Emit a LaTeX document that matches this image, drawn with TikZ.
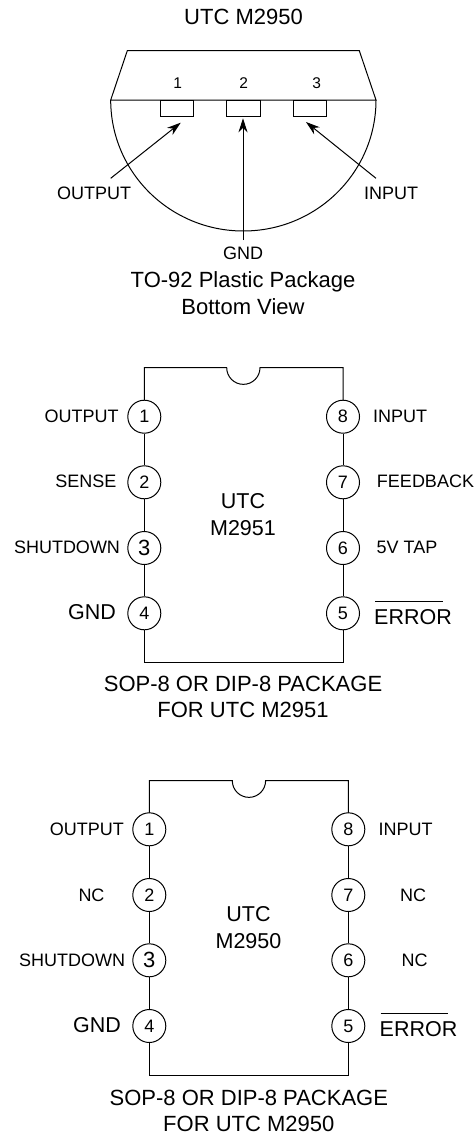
\documentclass[tikz,border=0pt]{standalone}
\usepackage{fontspec}
\setmainfont{Liberation Sans}
\usetikzlibrary{arrows.meta}
\tikzset{
  chippin/.style={draw,circle,minimum size=33pt,inner sep=0pt,fill=white,line width=1pt,font=\fontsize{18}{18}\selectfont},
  bigpin/.style={chippin,font=\fontsize{22}{22}\selectfont},
  lab/.style={inner sep=0pt,font=\fontsize{18}{18}\selectfont},
  numlab/.style={inner sep=0pt,font=\fontsize{15.5}{15.5}\selectfont},
  biglab/.style={inner sep=0pt,font=\fontsize{21.5}{21.5}\selectfont},
  captxt/.style={inner sep=0pt,anchor=base,font=\fontsize{22}{22}\selectfont},
  ln/.style={line width=1pt},
  arr/.style={line width=1pt,-{Stealth[length=14pt,width=9pt]}}
}
\begin{document}
\begin{tikzpicture}[x=1pt,y=-1pt]
\useasboundingbox (0,0) rectangle (476,1135);
% TO-92
\node[captxt] (title) at (243.5,24) {UTC M2950};
\coordinate (tl) at (110.7,100);
\coordinate (tr) at (376,100);
\draw[ln] (tl) -- (127.3,50.7) -- (359.3,50.7) -- (tr) -- cycle;
\draw[ln] (tl) arc[start angle=180,end angle=360,x radius=132.65,y radius=-131];
\draw[ln] (160.3,100) rectangle (193.7,116.3);
\draw[ln] (226.7,100) rectangle (260.7,116.3);
\draw[ln] (293.3,100) rectangle (326.7,116.3);
\node[numlab] (n1) at (177.7,83) {1};
\node[numlab] (n2) at (243.7,83) {2};
\node[numlab] (n3) at (316.7,83) {3};
\node[lab] (to) at (94,193) {OUTPUT};
\node[lab] (ti) at (391,193) {INPUT};
\node[lab] (tg) at (243,253) {GND};
\coordinate (a1) at (180.7,122.7);
\coordinate (a2) at (243,118.3);
\coordinate (a3) at (306,122);
\coordinate (s1) at (110.7,178.3);
\coordinate (s2) at (243,240);
\coordinate (s3) at (376,178.3);
\draw[arr] (s1) -- (a1);
\draw[arr] (s2) -- (a2);
\draw[arr] (s3) -- (a3);
\node[captxt] (c1) at (243,287) {TO-92 Plastic Package};
\node[captxt] (c2) at (243,314) {Bottom View};
% DIP 1
\draw[ln] (144.3,416.7) -- (144.3,367.7) -- (226.7,367.7) arc[start angle=180,end angle=360,x radius=16.65,y radius=-16.65] -- (343,367.7) -- (343,416.7);
\draw[ln] (144.3,613.3) -- (144.3,662.3) -- (343,662.3) -- (343,613.3);
\node[chippin] (a-1) at (144.3,416.7) {1};
\node[chippin] (a-2) at (144.3,482.3) {2};
\node[bigpin] (a-3) at (144.3,548) {3};
\node[chippin] (a-4) at (144.3,613.3) {4};
\node[chippin] (a-8) at (343,416.7) {8};
\node[chippin] (a-7) at (343,482.3) {7};
\node[chippin] (a-6) at (343,548) {6};
\node[chippin] (a-5) at (343,613.3) {5};
\draw[ln] (a-1) -- (a-2);
\draw[ln] (a-2) -- (a-3);
\draw[ln] (a-3) -- (a-4);
\draw[ln] (a-8) -- (a-7);
\draw[ln] (a-7) -- (a-6);
\draw[ln] (a-6) -- (a-5);
\node[lab] (al1) at (81.7,416.7) {OUTPUT};
\node[lab] (al2) at (85.8,481.5) {SENSE};
\node[lab] (al3) at (67,547.5) {SHUTDOWN};
\node[biglab] (al4) at (92,612) {GND};
\node[lab] (al8) at (400,416.7) {INPUT};
\node[lab] (al7) at (425.5,481.5) {FEEDBACK};
\node[lab] (al6) at (407,547.5) {5V TAP};
\node[biglab] (al5) at (413,617) {ERROR};
\draw[line width=.8pt] (375,601) -- (443,601);
\node[biglab] (au) at (243,501) {UTC};
\node[biglab] (am) at (243,528) {M2951};
\node[captxt] (ac1) at (243,691) {SOP-8 OR DIP-8 PACKAGE};
\node[captxt] (ac2) at (243,717) {FOR UTC M2951};
% DIP 2
\draw[ln] (149.3,829.3) -- (149.3,780.7) -- (232.3,780.7) arc[start angle=180,end angle=360,x radius=16.65,y radius=-16.65] -- (348.3,780.7) -- (348.3,829.3);
\draw[ln] (149.3,1026) -- (149.3,1075.3) -- (348.3,1075.3) -- (348.3,1026);
\node[chippin] (b-1) at (149.3,829.3) {1};
\node[chippin] (b-2) at (149.3,895) {2};
\node[bigpin] (b-3) at (149.3,960.3) {3};
\node[chippin] (b-4) at (149.3,1026) {4};
\node[chippin] (b-8) at (348.3,829.3) {8};
\node[chippin] (b-7) at (348.3,895) {7};
\node[chippin] (b-6) at (348.3,960.3) {6};
\node[chippin] (b-5) at (348.3,1026) {5};
\draw[ln] (b-1) -- (b-2);
\draw[ln] (b-2) -- (b-3);
\draw[ln] (b-3) -- (b-4);
\draw[ln] (b-8) -- (b-7);
\draw[ln] (b-7) -- (b-6);
\draw[ln] (b-6) -- (b-5);
\node[lab] (bl1) at (86.8,829.3) {OUTPUT};
\node[lab] (bl2) at (91.5,895) {NC};
\node[lab] (bl3) at (72.2,960.3) {SHUTDOWN};
\node[biglab] (bl4) at (97,1025) {GND};
\node[lab] (bl8) at (405.5,829.3) {INPUT};
\node[lab] (bl7) at (413,895) {NC};
\node[lab] (bl6) at (414.5,960.5) {NC};
\node[biglab] (bl5) at (418.5,1029) {ERROR};
\draw[line width=.8pt] (380.7,1013.7) -- (448,1013.7);
\node[biglab] (bu) at (248.5,914) {UTC};
\node[biglab] (bm) at (248.5,941) {M2950};
\node[captxt] (bc1) at (248.8,1105) {SOP-8 OR DIP-8 PACKAGE};
\node[captxt] (bc2) at (248.8,1131) {FOR UTC M2950};
\end{tikzpicture}
\end{document}
